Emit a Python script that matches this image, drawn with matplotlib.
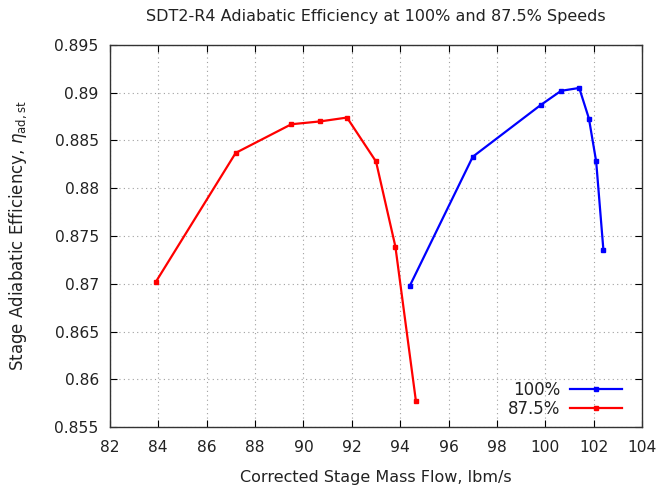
import matplotlib
matplotlib.use("Agg")
import matplotlib.pyplot as plt

# Corrected stage mass flow (lbm/s) and stage adiabatic efficiency
flow_100 = [94.4, 97.0, 99.8, 100.65, 101.4, 101.8, 102.1, 102.4]
eff_100 = [0.8698, 0.8833, 0.8887, 0.8902, 0.8905, 0.8873, 0.8828, 0.8735]

flow_875 = [83.9, 87.2, 89.5, 90.7, 91.8, 93.0, 93.8, 94.65]
eff_875 = [0.8702, 0.8837, 0.8867, 0.8870, 0.8874, 0.8828, 0.8739, 0.8577]

x_ticks = list(range(82, 105, 2))
y_ticks = [0.855, 0.86, 0.865, 0.87, 0.875, 0.88, 0.885, 0.89, 0.895]
y_labels = ["0.855", "0.86", "0.865", "0.87", "0.875", "0.88", "0.885", "0.89", "0.895"]

plt.rcParams["font.family"] = ["DejaVu Sans"]
plt.rcParams["mathtext.fontset"] = "dejavusans"

fig = plt.figure(figsize=(6.62, 4.91), dpi=100)
ax = fig.add_axes([0.166, 0.1303, 0.804, 0.7781])

ax.plot(flow_100, eff_100, color="#0000ff", lw=1.6, marker="s", ms=2.5, label="100%")
ax.plot(flow_875, eff_875, color="#ff0000", lw=1.6, marker="s", ms=2.5, label="87.5%")

ax.set_xlim(82, 104)
ax.set_ylim(0.855, 0.895)
ax.set_xticks(x_ticks)
ax.set_yticks(y_ticks)
ax.set_yticklabels(y_labels)
ax.tick_params(direction="in", length=5, width=0.8, top=True, right=True,
               labelsize=11.2, colors="black", labelcolor="#222222")
ax.tick_params(axis="x", pad=9)
ax.tick_params(axis="y", pad=8)
ax.grid(True, color="#a0a0a0", linestyle=(0, (1, 3)), linewidth=0.8)
for s in ax.spines.values():
    s.set_color("#333333")
    s.set_linewidth(1.0)

ax.set_title("SDT2-R4 Adiabatic Efficiency at 100% and 87.5% Speeds",
             fontsize=11.5, color="#222222", pad=17)
ax.set_xlabel("Corrected Stage Mass Flow, lbm/s", fontsize=11.5, color="#222222", labelpad=11)
ax.set_ylabel(r"Stage Adiabatic Efficiency, $\eta_{\mathrm{ad,st}}$", fontsize=12,
              color="#222222", labelpad=18)

leg = ax.legend(loc="lower right", bbox_to_anchor=(0.971, 0.0113), frameon=False,
                markerfirst=False, handlelength=3.1, fontsize=12, labelspacing=0.05,
                borderaxespad=0.0, handletextpad=0.6, borderpad=0.3)
for t in leg.get_texts():
    t.set_color("#222222")
    t.set_ha("right")

fig.savefig("out.png", dpi=100)
